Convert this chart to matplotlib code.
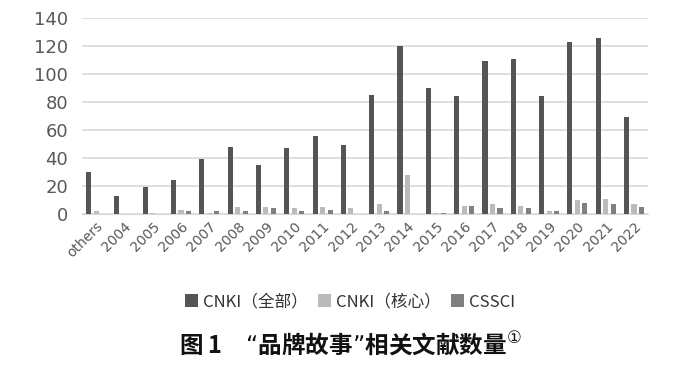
import matplotlib
matplotlib.use('Agg')
import matplotlib.pyplot as plt
import numpy as np

plt.rcParams['font.family'] = ['Noto Sans CJK SC', 'DejaVu Sans']

# data
categories = ['others', '2004', '2005', '2006', '2007', '2008', '2009', '2010',
              '2011', '2012', '2013', '2014', '2015', '2016', '2017', '2018',
              '2019', '2020', '2021', '2022']
cnki_all = [30, 13, 19, 24, 39, 48, 35, 47, 56, 49, 85, 120, 90, 84, 109, 111,
            84, 123, 126, 69]
cnki_core = [2, 0, 1, 3, 1, 5, 5, 4, 5, 4, 7, 28, 1, 6, 7, 6, 2, 10, 11, 7]
cssci = [0, 0, 0, 2, 2, 2, 4, 2, 3, 0, 2, 0, 1, 6, 4, 4, 2, 8, 7, 5]
series_names = ['CNKI（全部）', 'CNKI（核心）', 'CSSCI']
colors = ['#555555', '#bbbbbb', '#808080']

fig = plt.figure(figsize=(7, 3.67), dpi=100)
ax = fig.add_axes([0.117, 0.417, 0.809, 0.534])

x = np.arange(len(categories))
w = 0.18
step = 0.265
for i, (vals, name, c) in enumerate(zip([cnki_all, cnki_core, cssci], series_names, colors)):
    ax.bar(x + (i - 1) * step, vals, width=w, color=c, label=name, zorder=3)

ax.set_xlim(-0.5, len(categories) - 0.5)
ax.set_ylim(0, 140)
ax.set_yticks(range(0, 141, 20))
ax.grid(axis='y', color='#d9d9d9', linewidth=1.2, zorder=0)
for s in ['top', 'right', 'left']:
    ax.spines[s].set_visible(False)
ax.spines['bottom'].set_color('#d9d9d9')
ax.tick_params(axis='y', length=0, labelsize=13, labelcolor='#595959', pad=10)
ax.tick_params(axis='x', length=0, labelsize=10, labelcolor='#595959', pad=4)
ax.set_yticklabels([str(v) for v in range(0, 141, 20)], family='DejaVu Sans')
ax.set_xticks(x)
ax.set_xticklabels(categories, rotation=45, ha='right', rotation_mode='anchor',
                   family='DejaVu Sans')

fig.legend(loc='center', bbox_to_anchor=(0.5, 0.177), ncol=3, frameon=False,
           fontsize=12, handlelength=0.8, handleheight=0.8, handletextpad=0.3,
           columnspacing=0.6, labelcolor='#333333')

fig.text(0.5, 0.063, '图 1　“品牌故事”相关文献数量$^{①}$', ha='center', va='center',
         fontsize=17, fontweight='bold', color='#111111')

plt.savefig('out.png', dpi=100)
